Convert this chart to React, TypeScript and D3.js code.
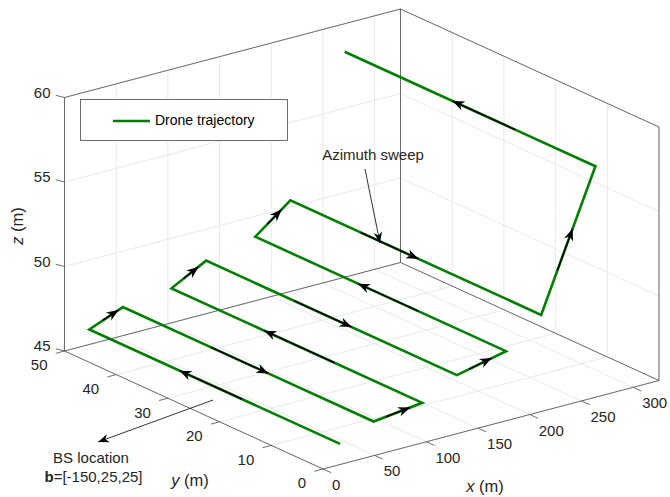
import React from "react";
import * as d3 from "d3";

// trajectory corners (m)
const trajX = [21.5, 21.5, 54, 54, 101, 101, 134.5, 134.5, 182, 182, 216, 216, 268.5, 268.5];
const trajY = [1, 49.5, 49.5, 1, 1, 49.5, 49.5, 1, 1, 49.5, 49.5, 1, 1, 49.5];
const trajZ = [46, 46, 46.8, 46.8, 47.15, 47.15, 48.25, 48.25, 48.9, 48.9, 50.5, 50.5, 58.45, 58.45];

// where the direction arrows sit on each leg (fraction of the leg)
const arrowFrom = [0.39, 0.4, 0.35, 0.25, 0.35, 0.35, 0.35, 0.25, 0.35, 0.35, 0.28, 0.3, 0.32];
const arrowTo = [0.64, 0.87, 0.58, 0.75, 0.63, 0.78, 0.58, 0.71, 0.59, 0.75, 0.51, 0.58, 0.57];

const xTicks = [0, 50, 100, 150, 200, 250, 300];
const yTicks = [0, 10, 20, 30, 40, 50];
const zTicks = [45, 50, 55, 60];

const xDomain = [0, 325];
const yDomain = [0, 50];
const zDomain = [45, 60];

const W = 670;
const H = 497;
const FONT = "Liberation Sans, Arial, Helvetica, sans-serif";
const TXT = "#262626";
const GREEN = "#008000";

// axes box as seen on screen
const origin = [323, 469];
const ex = [336, -88.5];
const ey = [-258.5, -118];
const ez = [0, -253.5];

const sx = d3.scaleLinear().domain(xDomain).range([0, 1]);
const sy = d3.scaleLinear().domain(yDomain).range([0, 1]);
const sz = d3.scaleLinear().domain(zDomain).range([0, 1]);

type P = [number, number];

const proj = (x: number, y: number, z: number): P => [
  origin[0] + sx(x) * ex[0] + sy(y) * ey[0] + sz(z) * ez[0],
  origin[1] + sx(x) * ex[1] + sy(y) * ey[1] + sz(z) * ez[1],
];

const lerp = (a: P, b: P, t: number): P => [a[0] + (b[0] - a[0]) * t, a[1] + (b[1] - a[1]) * t];

const head = (tip: P, from: P, len = 12, half = 4.8) => {
  const dx = tip[0] - from[0];
  const dy = tip[1] - from[1];
  const n = Math.hypot(dx, dy);
  const ux = dx / n;
  const uy = dy / n;
  const bx = tip[0] - ux * len;
  const by = tip[1] - uy * len;
  const nx = tip[0] - ux * len * 0.7;
  const ny = tip[1] - uy * len * 0.7;
  return `M${tip[0]},${tip[1]}L${bx - uy * half},${by + ux * half}L${nx},${ny}L${bx + uy * half},${by - ux * half}Z`;
};

const line = d3.line<P>();

const App = () => {
  const [x0, x1] = xDomain;
  const [y0, y1] = yDomain;
  const [z0, z1] = zDomain;

  const grid: [P, P][] = [];
  xTicks.forEach((x) => {
    grid.push([proj(x, y0, z0), proj(x, y1, z0)]);
    grid.push([proj(x, y1, z0), proj(x, y1, z1)]);
  });
  yTicks.forEach((y) => {
    grid.push([proj(x0, y, z0), proj(x1, y, z0)]);
    grid.push([proj(x1, y, z0), proj(x1, y, z1)]);
  });
  zTicks.forEach((z) => {
    grid.push([proj(x0, y1, z), proj(x1, y1, z)]);
    grid.push([proj(x1, y1, z), proj(x1, y0, z)]);
  });

  const box: [P, P][] = [
    [proj(x0, y1, z0), proj(x0, y1, z1)],
    [proj(x0, y1, z1), proj(x1, y1, z1)],
    [proj(x1, y1, z0), proj(x1, y1, z1)],
    [proj(x1, y1, z1), proj(x1, y0, z1)],
    [proj(x1, y0, z0), proj(x1, y0, z1)],
    [proj(x0, y1, z0), proj(x1, y1, z0)],
    [proj(x1, y1, z0), proj(x1, y0, z0)],
    [proj(x0, y0, z0), proj(x1, y0, z0)],
    [proj(x0, y0, z0), proj(x0, y1, z0)],
  ];

  const pts: P[] = trajX.map((x, i) => proj(x, trajY[i], trajZ[i]));

  return (
    <svg
      width={W}
      height={H}
      style={{ position: "absolute", left: 0, top: 0, background: "#fff" }}
      fontFamily={FONT}
    >
      <rect width={W} height={H} fill="#fff" />
      <g stroke="#e3e3e3" strokeWidth={0.8}>
        {grid.map(([a, b], i) => (
          <line key={i} x1={a[0]} y1={a[1]} x2={b[0]} y2={b[1]} />
        ))}
      </g>
      <g stroke="#4a4a4a" strokeWidth={0.8}>
        {box.map(([a, b], i) => (
          <line key={i} x1={a[0]} y1={a[1]} x2={b[0]} y2={b[1]} />
        ))}
        {xTicks.map((x) => {
          const p = proj(x, y0, z0);
          return <line key={"xt" + x} x1={p[0]} y1={p[1]} x2={p[0] + 8.2} y2={p[1] + 3.7} />;
        })}
        {yTicks.map((y) => {
          const p = proj(x0, y, z0);
          return <line key={"yt" + y} x1={p[0]} y1={p[1]} x2={p[0] - 8.7} y2={p[1] + 2.3} />;
        })}
        {zTicks.map((z) => {
          const p = proj(x0, y1, z);
          return <line key={"zt" + z} x1={p[0]} y1={p[1]} x2={p[0] - 8.7} y2={p[1] - 2.2} />;
        })}
      </g>
      <g fill={TXT} fontSize={15}>
        {xTicks.map((x) => {
          const p = proj(x, y0, z0);
          return (
            <text key={"xl" + x} x={p[0] + 9} y={p[1] + 17} dominantBaseline="middle">
              {x}
            </text>
          );
        })}
        {yTicks.map((y) => {
          const p = proj(x0, y, z0);
          return (
            <text key={"yl" + y} x={p[0] - 17} y={p[1] + 15.5} textAnchor="end" dominantBaseline="middle">
              {y}
            </text>
          );
        })}
        {zTicks.map((z) => {
          const p = proj(x0, y1, z);
          return (
            <text key={"zl" + z} x={p[0] - 14} y={p[1] - 3.5} textAnchor="end" dominantBaseline="middle">
              {z}
            </text>
          );
        })}
      </g>
      <g fill={TXT} fontSize={16.5}>
        <text x={485} y={488} textAnchor="middle" dominantBaseline="middle">
          <tspan fontStyle="italic">x</tspan> (m)
        </text>
        <text x={190} y={482} textAnchor="middle" dominantBaseline="middle">
          <tspan fontStyle="italic">y</tspan> (m)
        </text>
        <text
          transform="translate(19,226) rotate(-90)"
          textAnchor="middle"
          dominantBaseline="middle"
        >
          <tspan fontStyle="italic">z</tspan> (m)
        </text>
      </g>

      <path d={line(pts) ?? ""} fill="none" stroke={GREEN} strokeWidth={2.6} strokeLinejoin="miter" />
      <g>
        {pts.slice(0, -1).map((a, i) => {
          const b = pts[i + 1];
          const s = lerp(a, b, arrowFrom[i]);
          const t = lerp(a, b, arrowTo[i]);
          return (
            <g key={"ar" + i}>
              <line x1={s[0]} y1={s[1]} x2={t[0]} y2={t[1]} stroke="#000" strokeWidth={1.5} />
              <path d={head(t, a)} fill="#000" />
            </g>
          );
        })}
      </g>

      {/* annotations */}
      <g fill={TXT} fontSize={15}>
        <text x={373} y={156} textAnchor="middle" dominantBaseline="middle">
          Azimuth sweep
        </text>
        <text x={91} y={459} textAnchor="middle" dominantBaseline="middle">
          BS location
        </text>
        <text x={93.5} y={478} textAnchor="middle" dominantBaseline="middle">
          <tspan fontWeight="bold">b</tspan>=[-150,25,25]
        </text>
      </g>
      <line x1={365} y1={169} x2={380} y2={243} stroke="#000" strokeWidth={0.8} />
      <path d={head([380, 243], [365, 169], 11, 4.2)} fill="#000" />
      <line x1={213} y1={400} x2={98} y2={442} stroke="#000" strokeWidth={0.8} />
      <path d={head([98, 442], [213, 400], 11, 4.2)} fill="#000" />

      {/* legend */}
      <rect x={80.5} y={99.5} width={207} height={41} fill="#fff" stroke="#4a4a4a" strokeWidth={0.8} />
      <line x1={113} y1={121} x2={150} y2={121} stroke={GREEN} strokeWidth={2.6} />
      <text x={155} y={121} fontSize={14} fill="#000" dominantBaseline="middle">
        Drone trajectory
      </text>
    </svg>
  );
};

export default App;
